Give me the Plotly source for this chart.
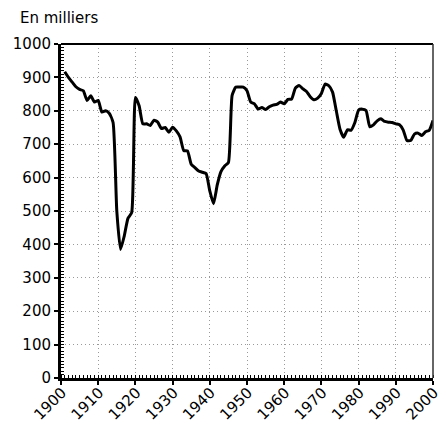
import plotly.graph_objects as go

years = list(range(1901, 2001))
births = [
    917, 900, 886, 872, 864, 860, 831, 845, 826, 831,   # 1901-1910
    796, 800, 792, 765, 500, 385, 425, 478, 495, 840,   # 1911-1920
    815, 761, 761, 756, 772, 766, 747, 750, 736, 751,   # 1921-1930
    740, 722, 681, 680, 640, 630, 620, 616, 612, 560,   # 1931-1940
    522, 578, 618, 635, 645, 846, 871, 871, 871, 860,   # 1941-1950
    826, 821, 805, 810, 804, 812, 817, 819, 826, 821,   # 1951-1960
    834, 835, 868, 876, 866, 858, 842, 833, 838, 852,   # 1961-1970
    880, 875, 856, 800, 745, 721, 743, 742, 765, 802,   # 1971-1980
    805, 801, 752, 758, 770, 776, 768, 766, 765, 761,   # 1981-1990
    758, 742, 711, 711, 730, 733, 726, 737, 742, 771,   # 1991-2000
]
x_ticks = list(range(1900, 2001, 10))
y_ticks = list(range(0, 1001, 100))
title_text = "En milliers"

fig = go.Figure()
fig.add_trace(go.Scatter(
    x=years, y=births, mode="lines",
    line=dict(color="black", width=3, shape="spline", smoothing=0.5),
    hoverinfo="skip", showlegend=False,
))

font = dict(family="DejaVu Sans, Verdana, sans-serif", size=15, color="black")

fig.update_layout(
    width=445, height=422,
    margin=dict(l=61, r=12, t=44, b=44),
    paper_bgcolor="white", plot_bgcolor="white",
    font=font,
    annotations=[dict(text=title_text, xref="paper", yref="paper",
                      x=(18 - 61) / 372, y=1 + 26 / 334, xanchor="left", yanchor="middle",
                      showarrow=False, font=font)],
)
grid_common = dict(showgrid=True, gridcolor="#999", griddash="1px,3px", gridwidth=1,
                   zeroline=False, fixedrange=True, automargin=False)
fig.update_xaxes(
    range=[1900, 2000], tickvals=x_ticks, ticktext=[str(v) for v in x_ticks],
    tickangle=-45, ticks="outside", ticklen=4, tickwidth=2, tickcolor="black",
    ticklabelstandoff=-7, ticklabelshift=1,
    showline=True, linecolor="black", linewidth=3, mirror=False,
    minor=dict(ticks="inside", dtick=1, tick0=1900, ticklen=3, tickwidth=1,
               tickcolor="black", showgrid=False),
    **grid_common,
)
fig.update_yaxes(
    range=[0, 1000], tickvals=y_ticks, ticks="outside", ticklen=4, tickwidth=2,
    tickcolor="black",
    showline=True, linecolor="black", linewidth=3, mirror=False,
    minor=dict(ticks="inside", dtick=10, tick0=0, ticklen=3, tickwidth=1,
               tickcolor="black", showgrid=False),
    **grid_common,
)
# top and right frame lines
fig.add_shape(type="line", xref="paper", yref="paper", x0=0, x1=1, y0=1, y1=1,
              line=dict(color="black", width=2))
fig.add_shape(type="line", xref="paper", yref="paper", x0=1, x1=1, y0=0, y1=1,
              line=dict(color="#333", width=1.5))

fig.write_html("out.html",
               config={"displayModeBar": False},
               post_script="document.body.style.margin='0';document.body.style.overflow='hidden';")
